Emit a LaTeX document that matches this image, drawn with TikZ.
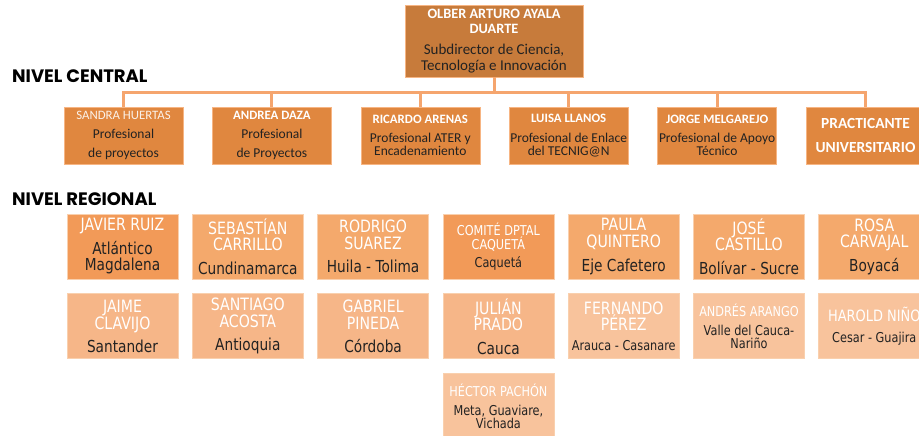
\documentclass[tikz,border=0pt]{standalone}
\usepackage{fontspec}
\setmainfont{Carlito}
\newfontfamily\regfont{DejaVu Sans}[FakeStretch=0.83]
\newfontfamily\headfont{Poppins}
\usetikzlibrary{positioning}
\definecolor{toporange}{HTML}{C77B3B}
\definecolor{midorange}{HTML}{E0873F}
\definecolor{regone}{HTML}{F29A58}
\definecolor{regtwo}{HTML}{F4A96C}
\definecolor{regthree}{HTML}{F6B688}
\definecolor{regfour}{HTML}{F8C39C}
\definecolor{lineorange}{HTML}{F5A56E}
\definecolor{darktext}{HTML}{222222}
\definecolor{edgeorange}{HTML}{F7B583}
\tikzstyle{boss} = [rectangle, minimum width=178pt, minimum height=72pt, inner sep=0pt, fill=toporange, draw=edgeorange, align=center, text=darktext, font=\fontsize{15}{16}\selectfont]
\tikzstyle{central} = [rectangle, minimum width=119pt, minimum height=57pt, inner sep=0pt, fill=midorange, draw=edgeorange, align=center, text=darktext, font=\fontsize{13.5}{13}\selectfont]
\tikzstyle{regional} = [rectangle, minimum width=111pt, minimum height=65pt, inner sep=0pt, draw=white!45!regtwo, line width=0.8pt, align=center, text=darktext, font=\regfont\fontsize{16.5}{16.7}\selectfont]
\tikzstyle{level} = [anchor=base west, inner sep=0pt, font=\headfont\bfseries\fontsize{18}{18}\selectfont, text=black]
\tikzstyle{link} = [line width=3pt, draw=lineorange]
\newcommand{\who}[1]{\textcolor{white}{#1}}
\newcommand{\whob}[1]{\textcolor{white}{\bfseries #1}}
\newcommand{\nm}[1]{{\fontsize{17}{16.7}\selectfont\color{white}#1}}
\newcommand{\smalltxt}{\fontsize{13.6}{14}\selectfont}

\begin{document}
\begin{tikzpicture}[x=1pt, y=-1pt]
    \useasboundingbox (0,0) rectangle (919,436);

    % levels
    \node (central) [level] at (12,83) {NIVEL CENTRAL};
    \node (regional) [level] at (12,205) {NIVEL REGIONAL};

    % top
    \node (olber) [boss] at (494,41) {{\fontsize{14.3}{16}\selectfont\whob{OLBER ARTURO AYALA}}\\[-1pt] {\fontsize{14.3}{16}\selectfont\whob{DUARTE}}\\[5.5pt] Subdirector de Ciencia,\\ Tecnología e Innovación};

    % central level
    \node (sandra) [central] at (123.5,135.5) {{\fontsize{12.8}{13}\selectfont\color{white!88!midorange}SANDRA HUERTAS}\\[6pt] Profesional\\[6pt] de proyectos};
    \node (andrea) [central, right=29pt of sandra] {{\fontsize{12.8}{13}\selectfont\whob{ANDREA DAZA}}\\[6pt] Profesional\\[6pt] de Proyectos};
    \node (ricardo) [central, right=29pt of andrea] {{\fontsize{12.8}{13}\selectfont\whob{RICARDO ARENAS}}\\[6.4pt] Profesional ATER y\\ Encadenamiento};
    \node (luisa) [central, right=29pt of ricardo] {{\fontsize{12.8}{13}\selectfont\whob{LUISA LLANOS}}\\[6.4pt] Profesional de Enlace\\ del TECNIG@N};
    \node (jorge) [central, right=29pt of luisa] {{\fontsize{12.8}{13}\selectfont\whob{JORGE MELGAREJO}}\\[6.4pt] Profesional de Apoyo\\ Técnico};
    \node (practicante) [central, right=29pt of jorge] {{\fontsize{15.4}{15}\selectfont\whob{PRACTICANTE}}\\[11pt] {\fontsize{15.4}{15}\selectfont\whob{UNIVERSITARIO}}};

    \draw [link] (olber.south) -- ++(0,15) -| (sandra.north);
    \draw [link] (olber.south) -- ++(0,15) -| (andrea.north);
    \draw [link] (olber.south) -- ++(0,15) -| (ricardo.north);
    \draw [link] (olber.south) -- ++(0,15) -| (luisa.north);
    \draw [link] (olber.south) -- ++(0,15) -| (jorge.north);
    \draw [link] (olber.south) -- ++(0,15) -| (practicante.north);

    % regional level, first row
    \node (javier) [regional, fill=regone] at (122.5,246.5) {\nm{JAVIER RUIZ}\\[6.6pt] Atlántico\\ Magdalena};
    \node (sebastian) [regional, fill=regtwo, right=13.5pt of javier] {\nm{SEBASTÍAN}\\ \nm{CARRILLO}\\[6.7pt] Cundinamarca};
    \node (rodrigo) [regional, fill=regtwo, right=13.5pt of sebastian] {\nm{RODRIGO}\\ \nm{SUAREZ}\\[6.7pt] Huila - Tolima};
    \node (comite) [regional, fill=regone, right=13.5pt of rodrigo] {{\smalltxt\who{COMITÉ DPTAL}}\\[-2.7pt] {\smalltxt\who{CAQUETÁ}}\\[1.7pt] {\smalltxt Caquetá}};
    \node (paula) [regional, fill=regtwo, right=13.5pt of comite] {\nm{PAULA}\\ \nm{QUINTERO}\\[6.7pt] Eje Cafetero};
    \node (jose) [regional, fill=regtwo, right=13.5pt of paula] {\nm{JOSÉ}\\ \nm{CASTILLO}\\[6.7pt] Bolívar - Sucre};
    \node (rosa) [regional, fill=regtwo, right=13.5pt of jose] {\nm{ROSA}\\ \nm{CARVAJAL}\\[6.7pt] Boyacá};

    % second row
    \node (jaime) [regional, fill=regthree, below=14pt of javier] {\nm{JAIME}\\ \nm{CLAVIJO}\\[6.7pt] Santander};
    \node (santiago) [regional, fill=regthree, below=14pt of sebastian] {\nm{SANTIAGO}\\ \nm{ACOSTA}\\[6.7pt] Antioquia};
    \node (gabriel) [regional, fill=regthree, below=14pt of rodrigo] {\nm{GABRIEL}\\ \nm{PINEDA}\\[6.7pt] Córdoba};
    \node (julian) [regional, fill=regthree, below=14pt of comite] {\nm{JULIÁN}\\ \nm{PRADO}\\[6.7pt] Cauca};
    \node (fernando) [regional, fill=regfour, below=14pt of paula] {\nm{FERNANDO}\\[-1pt] \nm{PÉREZ}\\[3.6pt] {\smalltxt Arauca - Casanare}};
    \node (andres) [regional, fill=regfour, below=14pt of jose] {{\smalltxt\who{ANDRÉS ARANGO}}\\[2.3pt] {\smalltxt Valle del Cauca-}\\[-3.3pt] {\smalltxt Nariño}};
    \node (harold) [regional, fill=regfour, below=14pt of rosa] {{\fontsize{15.6}{16}\selectfont\who{HAROLD NIÑO}}\\[4.6pt] {\smalltxt Cesar - Guajira}};

    % third row
    \node (hector) [regional, fill=regfour, below=14pt of julian] {{\smalltxt\who{HÉCTOR PACHÓN}}\\[2.3pt] {\smalltxt Meta, Guaviare,}\\[-3.3pt] {\smalltxt Vichada}};
\end{tikzpicture}
\end{document}
